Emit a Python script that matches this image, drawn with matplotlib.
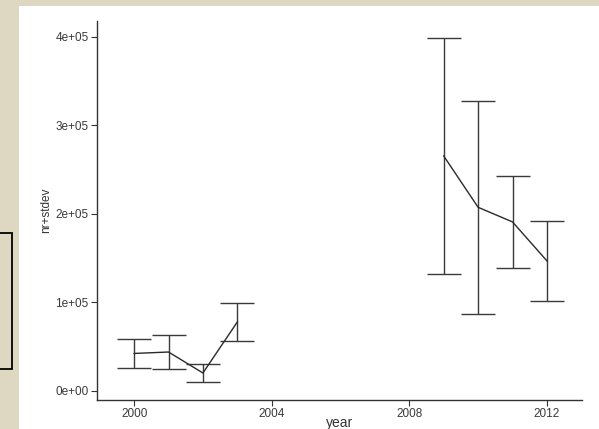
import numpy as np
import matplotlib
matplotlib.use("Agg")
import matplotlib.pyplot as plt
from matplotlib.patches import Rectangle

# yearly counts with their standard deviation (no survey 2004-2008)
years = [2000, 2001, 2002, 2003, 2004, 2005, 2006, 2007, 2008, 2009, 2010, 2011, 2012]
nr = [42400, 44000, 20300, 78000, np.nan, np.nan, np.nan, np.nan, np.nan,
      265500, 207500, 191000, 147000]
stdev = [16800, 19500, 10000, 21500, np.nan, np.nan, np.nan, np.nan, np.nan,
         133500, 120500, 52000, 45000]

xticks = [2000, 2004, 2008, 2012]
yticks = [0, 100000, 200000, 300000, 400000]
ylabels = ["0e+00", "1e+05", "2e+05", "3e+05", "4e+05"]

plt.rcParams['font.family'] = ['Liberation Sans', 'DejaVu Sans']

W, H = 599, 429
fig = plt.figure(figsize=(W / 100, H / 100), dpi=100)
fig.patch.set_facecolor('#ded8c2')

# white sheet and the side box behind the plot
fig.patches.append(Rectangle((19 / W, 0), 1 - 19 / W, 1 - 6 / H, transform=fig.transFigure,
                             facecolor='white', edgecolor='none', zorder=-10))
fig.patches.append(Rectangle((-2 / W, 1 - 369 / H), 14 / W, 136 / H, transform=fig.transFigure,
                             facecolor='none', edgecolor='black', lw=1.3, zorder=-9))

ax = fig.add_axes([97 / W, 1 - 400 / H, (582 - 97) / W, (400 - 21) / H])
ax.set_facecolor('none')

yr = np.array(years, dtype=float)
m = np.array(nr)
s = np.array(stdev)
ok = ~np.isnan(m)
ax.errorbar(yr[ok], m[ok], yerr=s[ok], fmt='none', ecolor='#3a3a3a',
            elinewidth=1.0, capsize=12.5, capthick=1.0)
ax.plot(yr, m, color='#2a2a2a', lw=1.0)

ax.set_xlim(1998.92, 2013.02)
ax.set_ylim(-10200, 418000)
ax.set_xticks(xticks)
ax.set_xticklabels([str(t) for t in xticks])
ax.set_yticks(yticks)
ax.set_yticklabels(ylabels)

for side in ['top', 'right']:
    ax.spines[side].set_visible(False)
for side in ['left', 'bottom']:
    ax.spines[side].set_color('#333333')
    ax.spines[side].set_linewidth(1.0)

ax.tick_params(direction='out', length=4, width=0.8, colors='#333333',
               labelsize=8.5, labelcolor='#3a3a3a', pad=2)
ax.set_xlabel('year', fontsize=10, color='#333333')
ax.xaxis.set_label_coords(0.5, -0.043)
ax.set_ylabel('nr+stdev', fontsize=8.5, color='#333333', labelpad=2)

fig.savefig('out.png', dpi=100, facecolor=fig.get_facecolor())
